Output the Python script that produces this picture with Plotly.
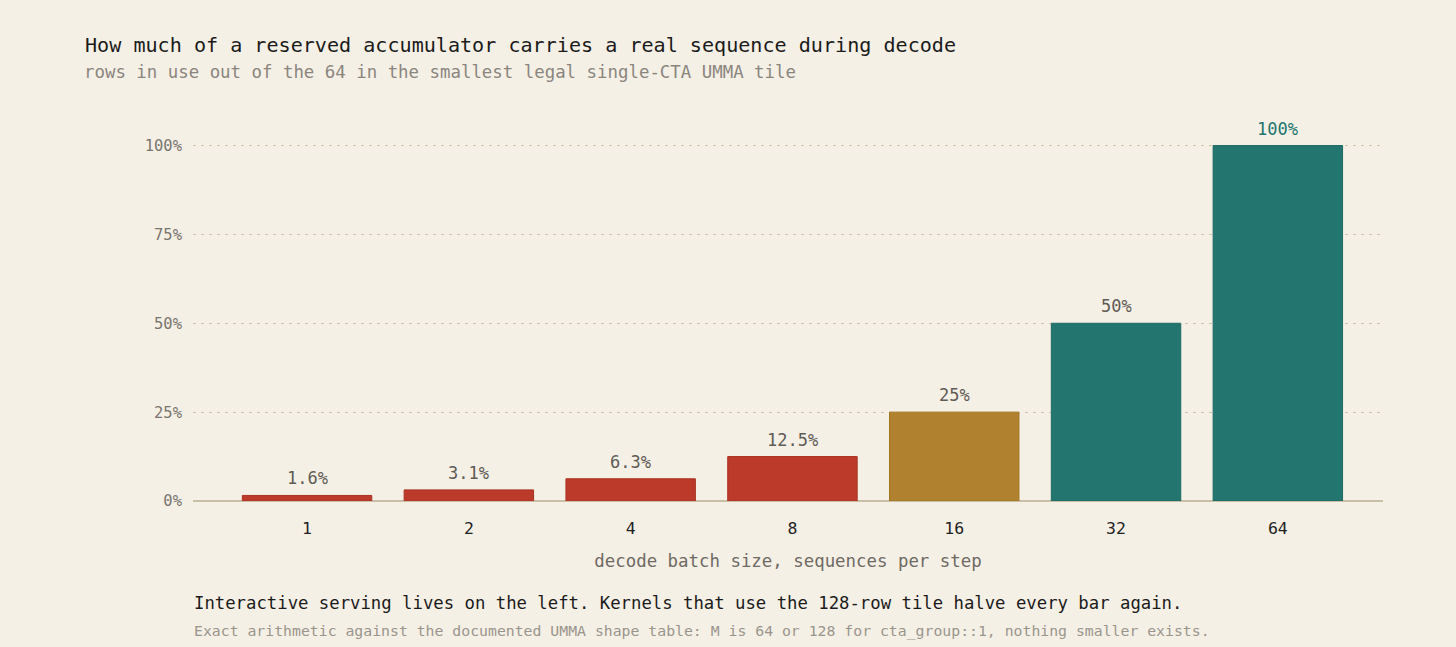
import plotly.graph_objects as go

# --- data ---
batch_sizes = ["1", "2", "4", "8", "16", "32", "64"]
rows_in_use = [1, 2, 4, 8, 16, 32, 64]
tile_rows = 64
value_labels = ["1.6%", "3.1%", "6.3%", "12.5%", "25%", "50%", "100%"]
y_ticks = [0, 0.25, 0.5, 0.75, 1.0]
y_tick_labels = ["0%", "25%", "50%", "75%", "100%"]

utilisation = [r / tile_rows for r in rows_in_use]

RED, GOLD, TEAL = "#bb3a29", "#b0812e", "#23756f"
bar_colors = [RED, RED, RED, RED, GOLD, TEAL, TEAL]
edge_colors = ["#a93222", "#a93222", "#a93222", "#a93222", "#a4751f", "#1b6a64", "#1b6a64"]
label_colors = ["#5f5b55"] * 6 + [TEAL]

BG = "#f5f0e6"
FONT = "DejaVu Sans Mono, Liberation Mono, monospace"

W, H = 1456, 647
ML, MR, MT, MB = 193, 73, 110, 146
plot_w = W - ML - MR
plot_h = H - MT - MB


def px(x):
    return (x - ML) / plot_w


def py(y):
    return (H - MB - y) / plot_h


xs = list(range(len(batch_sizes)))

fig = go.Figure()

fig.add_trace(go.Bar(
    x=xs,
    y=utilisation,
    width=0.8,
    marker=dict(color=bar_colors, line=dict(color=edge_colors, width=1)),
    hovertemplate="batch %{x}: %{y:.1%}<extra></extra>",
))

# value labels above each bar
bar_labels = [
    dict(
        x=x, y=v, xref="x", yref="y", text=t,
        yanchor="bottom", yshift=5, showarrow=False,
        font=dict(family=FONT, size=17, color=c),
    )
    for x, v, t, c in zip(xs, utilisation, value_labels, label_colors)
]

notes = [
    dict(
        text="rows in use out of the 64 in the smallest legal single-CTA UMMA tile",
        xref="paper", yref="paper", x=px(82), y=py(72),
        xanchor="left", yanchor="middle", showarrow=False,
        font=dict(family=FONT, size=17.4, color="#8a857d"),
    ),
    dict(
        text="Interactive serving lives on the left. Kernels that use the 128-row tile halve every bar again.",
        xref="paper", yref="paper", x=px(192), y=py(603),
        xanchor="left", yanchor="middle", showarrow=False,
        font=dict(family=FONT, size=17.3, color="#1b1b1b"),
    ),
    dict(
        text="Exact arithmetic against the documented UMMA shape table: M is 64 or 128 for cta_group::1, nothing smaller exists.",
        xref="paper", yref="paper", x=px(192), y=py(631),
        xanchor="left", yanchor="middle", showarrow=False,
        font=dict(family=FONT, size=14.8, color="#9a958c"),
    ),
]

fig.update_layout(
    width=W,
    height=H,
    paper_bgcolor=BG,
    plot_bgcolor=BG,
    margin=dict(l=ML, r=MR, t=MT, b=MB),
    showlegend=False,
    font=dict(family=FONT),
    title=dict(
        text="How much of a reserved accumulator carries a real sequence during decode",
        font=dict(family=FONT, size=20.1, color="#1b1b1b"),
        xref="container", yref="container",
        x=85 / W, y=1 - 45 / H,
        xanchor="left", yanchor="middle",
    ),
    xaxis=dict(
        tickmode="array",
        tickvals=xs,
        ticktext=batch_sizes,
        range=[-0.705, 6.65],
        showgrid=False,
        zeroline=False,
        showline=False,
        ticks="",
        tickfont=dict(family=FONT, size=16.5, color="#1f1f1f"),
        ticklabelstandoff=15,
        title=dict(
            text="decode batch size, sequences per step",
            font=dict(family=FONT, size=17.4, color="#6e6a63"),
            standoff=18,
        ),
    ),
    yaxis=dict(
        range=[0, 1.1],
        tickvals=y_ticks,
        ticktext=y_tick_labels,
        tickfont=dict(family=FONT, size=15.5, color="#7a766f"),
        showgrid=True,
        gridcolor="#d0c4a8",
        griddash="3px,5px",
        gridwidth=1,
        zeroline=True,
        zerolinecolor="#c9bea6",
        zerolinewidth=1.5,
        ticks="",
        ticklabelstandoff=10,
    ),
    annotations=bar_labels + notes,
)

fig.write_html(
    "out.html",
    config={"displayModeBar": False},
    post_script="document.body.style.margin='0';",
)
